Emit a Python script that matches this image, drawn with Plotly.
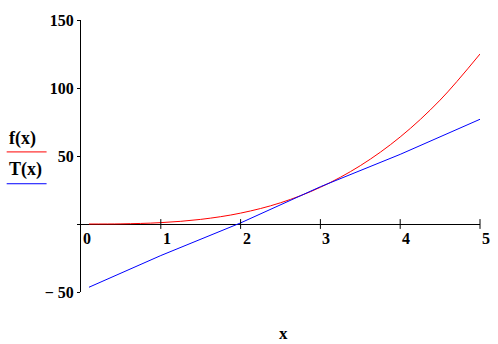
import plotly.graph_objects as go

# Sampled values of the curve f and its tangent line T
x_f = [0.1, 0.5, 1.0, 1.5, 2.0, 2.5, 3.0, 3.5, 4.0, 4.5, 5.0]
y_f = [0.0, 0.1, 1.0, 3.4, 8.0, 15.6, 27.0, 42.9, 64.0, 91.1, 125.0]

x_t = [0.1, 1.0, 2.0, 3.0, 4.0, 5.0]
y_t = [-46.5, -23.2, 0.8, 27.4, 51.2, 77.0]

x_ticks = [0, 1, 2, 3, 4, 5]
x_tick_text = ["0", "1", "2", "3", "4", "5"]
y_ticks = [-50, 0, 50, 100, 150]
y_tick_text = ["\u2212 50", "", "50", "100", "150"]

legend_names = ["f(x)", "T(x)"]
colors = ["#ff0000", "#0000ff"]

FONT = "Liberation Serif"
BLACK = "#000000"

fig = go.Figure()

fig.add_trace(go.Scatter(x=x_f, y=y_f, mode="lines", line=dict(color=colors[0], width=1, shape="spline"),
                         showlegend=False, hoverinfo="skip"))
fig.add_trace(go.Scatter(x=x_t, y=y_t, mode="lines", line=dict(color=colors[1], width=1),
                         showlegend=False, hoverinfo="skip"))

# tick marks crossing the horizontal axis at y = 0
fig.add_trace(go.Scatter(x=x_ticks[1:], y=[0] * (len(x_ticks) - 1), mode="markers",
                         marker=dict(symbol="line-ns", size=7, line=dict(color=BLACK, width=1)),
                         showlegend=False, hoverinfo="skip", cliponaxis=False))

annotations = []
for xv, txt in zip(x_ticks, x_tick_text):
    annotations.append(dict(x=xv, y=0, xref="x", yref="y", text="<b>%s</b>" % txt, showarrow=False,
                            xanchor="left", yanchor="top", xshift=0, yshift=-4,
                            font=dict(family=FONT, size=16, color=BLACK)))

# legend block on the left: name over a short coloured rule
legend_text_y = [0.565, 0.452]
legend_line_y = [0.515, 0.398]
shapes = []
for name, col, ty, ly in zip(legend_names, colors, legend_text_y, legend_line_y):
    annotations.append(dict(x=(6 - 80.5) / 400, y=ty, xref="paper", yref="paper", text="<b>%s</b>" % name,
                            showarrow=False, xanchor="left", yanchor="middle",
                            font=dict(family=FONT, size=18, color=BLACK)))
    shapes.append(dict(type="line", xref="paper", yref="paper", x0=(6 - 80.5) / 400, x1=(46 - 80.5) / 400,
                       y0=ly, y1=ly, line=dict(color=col, width=1)))

annotations.append(dict(x=0.5075, y=0, xref="paper", yref="paper", text="<b>x</b>", showarrow=False,
                        xanchor="center", yanchor="middle", yshift=-41,
                        font=dict(family=FONT, size=17, color=BLACK)))

fig.update_layout(
    width=498, height=344,
    margin=dict(l=80.5, r=17.5, t=20, b=52, autoexpand=False),
    paper_bgcolor="white", plot_bgcolor="white",
    xaxis=dict(range=[0, 5], showgrid=False, zeroline=False, showline=False, showticklabels=False,
               ticks="", automargin=False),
    yaxis=dict(range=[-50, 150], showgrid=False, zeroline=True, zerolinecolor=BLACK, zerolinewidth=1,
               showline=True, linecolor=BLACK, linewidth=1, ticks="outside", ticklen=3, tickcolor=BLACK,
               tickvals=y_ticks, ticktext=["<b>%s</b>" % t for t in y_tick_text],
               tickfont=dict(family=FONT, size=16, color=BLACK), ticklabelstandoff=0, automargin=False),
    annotations=annotations,
    shapes=shapes,
)

fig.write_html("out.html")
